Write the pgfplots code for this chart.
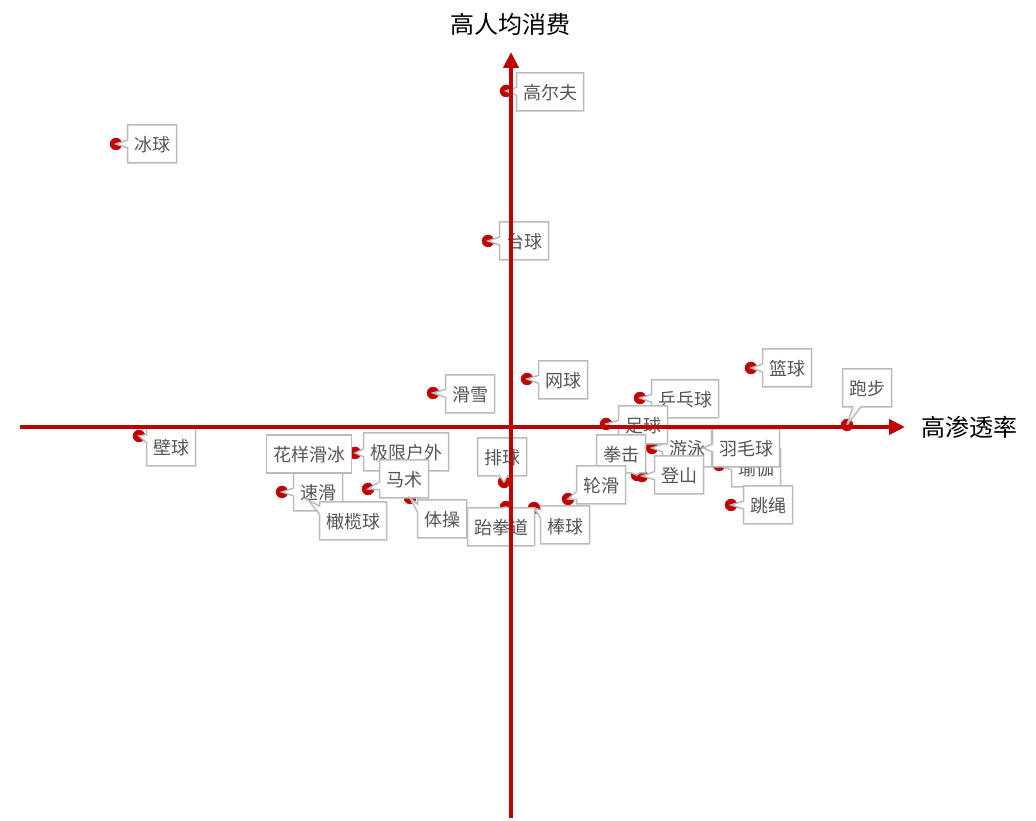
\documentclass[border=0pt]{standalone}
\usepackage{pgfplots}
\pgfplotsset{compat=1.18}
\usepackage{pgfplotstable}
\usetikzlibrary{shapes.callouts,arrows.meta}
\usepackage{fontspec}
\setmainfont{Noto Sans CJK SC}
\definecolor{axred}{HTML}{C00000}
\definecolor{boxgray}{HTML}{BBBBBB}
\definecolor{txtgray}{HTML}{555555}

% x: penetration (relative), y: per-capita spend (relative)
\pgfplotstableread{
x y
-5 336
-395 283
-23 186
-78 34
16 48
240 59
129 29
336 2
95 3
-372 -9
141 -21
192 -21
208 -38
126 -48
131 -49
57 -72
220 -78
23 -81
-5 -80
-7 -55
-101 -71
-143 -62
-156 -26
-200 -27
-229 -65
-203 -73
}\pts

\tikzset{lblbase/.style={draw=boxgray, line width=1.5pt, fill=white,
  text=txtgray, font=\fontsize{18}{20}\selectfont, inner xsep=6.5pt, inner ysep=0pt,
  text height=17pt, text depth=1pt, minimum height=38pt},
  lbl/.style={rectangle callout, lblbase, callout pointer width=8pt}}
\newcommand\lb[5]{\node[lbl, callout absolute pointer={(axis cs:#3,#4)}] at (axis cs:#1,#2) {#5};}
\newcommand\lbn[3]{\node[rectangle, lblbase] at (axis cs:#1,#2) {#3};}

\begin{document}
\begin{tikzpicture}
\begin{axis}[x=1pt,y=1pt, xmin=-511,xmax=525,ymin=-393,ymax=427, hide axis, clip=false, scale only axis, set layers]
\path (axis cs:-511,-393) rectangle (axis cs:525,427);
\addplot[only marks, mark=*, mark size=6pt, color=axred] table {\pts};
\begin{pgfonlayer}{axis descriptions}
\lb{39}{335}{-5}{336}{高尔夫}
\lb{-359}{283}{-395}{283}{冰球}
\lb{13}{186}{-23}{186}{台球}
\lb{-41}{33}{-78}{34}{滑雪}
\lb{52}{47}{16}{48}{网球}
\lb{276}{59}{240}{59}{篮球}
\lb{356}{39}{336}{2}{跑步}
\lb{-340}{-20}{-372}{-9}{壁球}
\lb{176}{-21}{141}{-21}{游泳}
\lb{245}{-41}{208}{-38}{瑜伽}
\lb{235}{-21}{192}{-21}{羽毛球}
\lb{174}{28}{129}{29}{乒乓球}
\lb{132}{2}{95}{3}{足球}
\lb{110}{-27}{126}{-48}{拳击}
\lb{90}{-58}{57}{-72}{轮滑}
\lb{168}{-48}{131}{-49}{登山}
\lb{257}{-78}{220}{-78}{跳绳}
\lb{54}{-98}{23}{-81}{棒球}
\lb{-9}{-30}{-7}{-55}{排球}
\lb{-105}{-25}{-156}{-26}{极限户外}
\lb{-107}{-52}{-143}{-62}{马术}
\lb{-193}{-65}{-229}{-65}{速滑}
\lbn{-202}{-27}{花样滑冰}
\lb{-158}{-94}{-203}{-73}{橄榄球}
\lb{-69}{-92}{-101}{-71}{体操}
\lb{-10}{-100}{-5}{-80}{跆拳道}
\end{pgfonlayer}
\begin{pgfonlayer}{axis foreground}
\draw[axred, line width=4pt, -{Triangle[length=16pt,width=15pt]}] (axis cs:-491,0) -- (axis cs:394,0);
\draw[axred, line width=4pt, -{Triangle[length=16pt,width=15pt]}] (axis cs:0,-391) -- (axis cs:0,375);
\end{pgfonlayer}
\node[font=\fontsize{24}{26}\selectfont, text=black] at (axis cs:-1,403) {高人均消费};
\node[font=\fontsize{24}{26}\selectfont, text=black, anchor=west] at (axis cs:407,0) {高渗透率};
\end{axis}
\end{tikzpicture}
\end{document}
